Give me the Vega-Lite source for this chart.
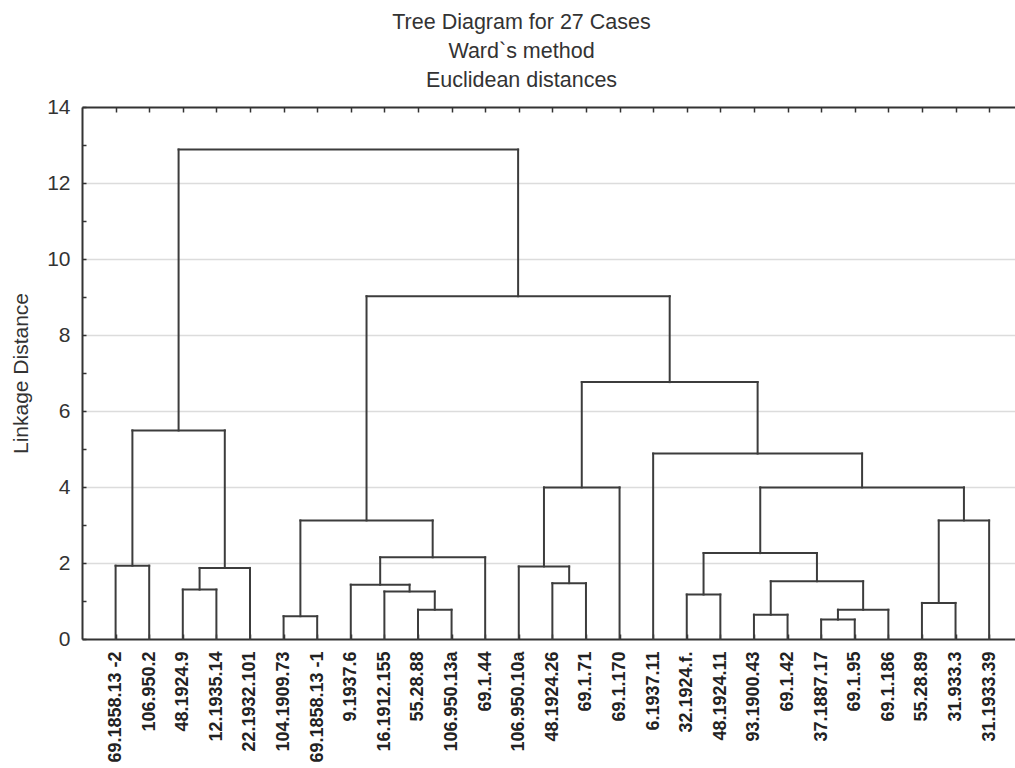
{
  "$schema": "https://vega.github.io/schema/vega-lite/v6.json",
  "autosize": {"type": "none"},
  "padding": {"left": 82, "top": 107, "right": 0, "bottom": 129},
  "width": 933,
  "height": 532,
  "background": "white",
  "title": {
    "text": ["Tree Diagram for 27 Cases", "Ward`s method", "Euclidean distances"],
    "font": "Liberation Sans",
    "fontSize": 21.5,
    "fontWeight": "normal",
    "color": "#333333",
    "lineHeight": 29,
    "anchor": "middle",
    "dx": -27,
    "offset": 5
  },
  "config": {
    "view": {"stroke": null},
    "axis": {"domainColor": "#333333", "domainWidth": 2, "tickColor": "#333333", "tickWidth": 1.5}
  },
  "data": {
    "values": [
      {"xl": 1, "xr": 2, "hl": 0, "hr": 0, "h": 1.93},
      {"xl": 3, "xr": 4, "hl": 0, "hr": 0, "h": 1.30},
      {"xl": 3.5, "xr": 5, "hl": 1.30, "hr": 0, "h": 1.87},
      {"xl": 1.5, "xr": 4.25, "hl": 1.93, "hr": 1.87, "h": 5.49},
      {"xl": 6, "xr": 7, "hl": 0, "hr": 0, "h": 0.60},
      {"xl": 10, "xr": 11, "hl": 0, "hr": 0, "h": 0.77},
      {"xl": 9, "xr": 10.5, "hl": 0, "hr": 0.77, "h": 1.25},
      {"xl": 8, "xr": 9.75, "hl": 0, "hr": 1.25, "h": 1.43},
      {"xl": 8.875, "xr": 12, "hl": 1.43, "hr": 0, "h": 2.15},
      {"xl": 6.5, "xr": 10.4375, "hl": 0.60, "hr": 2.15, "h": 3.12},
      {"xl": 14, "xr": 15, "hl": 0, "hr": 0, "h": 1.47},
      {"xl": 13, "xr": 14.5, "hl": 0, "hr": 1.47, "h": 1.91},
      {"xl": 13.75, "xr": 16, "hl": 1.91, "hr": 0, "h": 3.99},
      {"xl": 22, "xr": 23, "hl": 0, "hr": 0, "h": 0.51},
      {"xl": 22.5, "xr": 24, "hl": 0.51, "hr": 0, "h": 0.77},
      {"xl": 20, "xr": 21, "hl": 0, "hr": 0, "h": 0.64},
      {"xl": 20.5, "xr": 23.25, "hl": 0.64, "hr": 0.77, "h": 1.52},
      {"xl": 18, "xr": 19, "hl": 0, "hr": 0, "h": 1.17},
      {"xl": 18.5, "xr": 21.875, "hl": 1.17, "hr": 1.52, "h": 2.26},
      {"xl": 25, "xr": 26, "hl": 0, "hr": 0, "h": 0.95},
      {"xl": 25.5, "xr": 27, "hl": 0.95, "hr": 0, "h": 3.12},
      {"xl": 20.1875, "xr": 26.25, "hl": 2.26, "hr": 3.12, "h": 3.99},
      {"xl": 17, "xr": 23.21875, "hl": 0, "hr": 3.99, "h": 4.88},
      {"xl": 14.875, "xr": 20.109375, "hl": 3.99, "hr": 4.88, "h": 6.76},
      {"xl": 8.46875, "xr": 17.4921875, "hl": 3.12, "hr": 6.76, "h": 9.02},
      {"xl": 2.875, "xr": 12.98046875, "hl": 5.49, "hr": 9.02, "h": 12.88}
    ]
  },
  "resolve": {"axis": {"x": "independent", "y": "independent"}},
  "layer": [
    {
      "mark": {"type": "rule", "color": "#3c3c3c", "strokeWidth": 2, "strokeCap": "square"},
      "encoding": {
        "x": {
          "field": "xl", "type": "quantitative",
          "scale": {"domain": [0, 27.77], "nice": false, "zero": false},
          "axis": {
            "orient": "bottom",
            "title": null,
            "values": [1,2,3,4,5,6,7,8,9,10,11,12,13,14,15,16,17,18,19,20,21,22,23,24,25,26,27],
            "labelExpr": "['69.1858.13 -2','106.950.2','48.1924.9','12.1935.14','22.1932.101','104.1909.73','69.1858.13 -1','9.1937.6','16.1912.155','55.28.88','106.950.13a','69.1.44','106.950.10a','48.1924.26','69.1.71','69.1.170','6.1937.11','32.1924.f.','48.1924.11','93.1900.43','69.1.42','37.1887.17','69.1.95','69.1.186','55.28.89','31.933.3','31.1933.39'][datum.value - 1]",
            "labelAngle": -90,
            "labelFont": "Liberation Sans",
            "labelFontSize": 18,
            "labelFontWeight": "bold",
            "labelColor": "#222222",
            "labelPadding": 17,
            "tickSize": -5,
            "grid": false,
            "labelOverlap": false,
            "labelBound": false,
            "labelFlush": false
          }
        },
        "x2": {"field": "xr"},
        "y": {
          "field": "h", "type": "quantitative",
          "scale": {"domain": [0, 14], "nice": false},
          "axis": {
            "title": "Linkage Distance",
            "titleFont": "Liberation Sans",
            "titleFontSize": 21,
            "titleFontWeight": "normal",
            "titleColor": "#333333",
            "titlePadding": 15,
            "values": [0,1,2,3,4,5,6,7,8,9,10,11,12,13,14],
            "labelExpr": "datum.value % 2 === 0 ? datum.label : ''",
            "labelFont": "Liberation Sans",
            "labelFontSize": 21,
            "labelColor": "#333333",
            "labelPadding": 16,
            "tickSize": -4,
            "grid": true,
            "gridColor": "#dcdcdc",
            "gridWidth": 1.5,
            "gridOpacity": {"condition": {"test": "datum.value % 2 === 1 || datum.value === 0 || datum.value === 14", "value": 0}, "value": 1},
            "labelOverlap": false,
            "labelFlush": false
          }
        }
      }
    },
    {
      "mark": {"type": "rule", "color": "#3c3c3c", "strokeWidth": 2, "strokeCap": "square"},
      "encoding": {
        "x": {
          "field": "xl", "type": "quantitative",
          "axis": {
            "orient": "top",
            "title": null,
            "labels": false,
            "values": [1,2,3,4,5,6,7,8,9,10,11,12,13,14,15,16,17,18,19,20,21,22,23,24,25,26,27],
            "tickSize": -5,
            "grid": false
          }
        },
        "y": {"field": "hl", "type": "quantitative", "axis": null},
        "y2": {"field": "h"}
      }
    },
    {
      "mark": {"type": "rule", "color": "#3c3c3c", "strokeWidth": 2, "strokeCap": "square"},
      "encoding": {
        "x": {"field": "xr", "type": "quantitative", "axis": null},
        "y": {"field": "hr", "type": "quantitative", "axis": null},
        "y2": {"field": "h"}
      }
    }
  ]
}
